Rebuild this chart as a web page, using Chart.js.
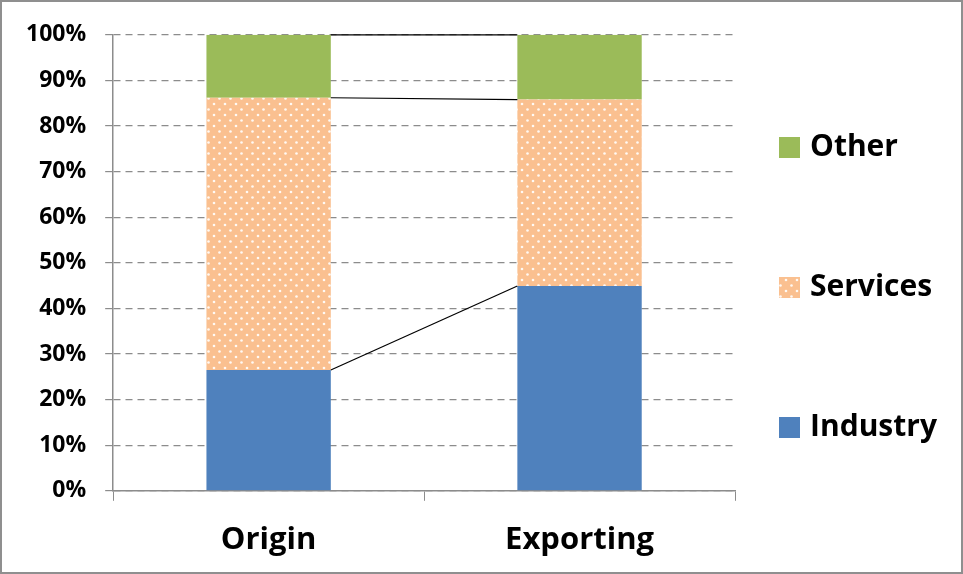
<!DOCTYPE html>
<html>
<head>
<meta charset="utf-8">
<script src="https://cdn.jsdelivr.net/npm/chart.js@4/dist/chart.umd.min.js"></script>
<style>
  body { margin: 0; background: #fff; }
  #wrap { width: 963px; height: 574px; box-sizing: border-box; border: 2px solid #8f8f8f; }
</style>
</head>
<body>
<div id="wrap"><canvas id="shareChart"></canvas></div>
<script>
// data (percent of total)
const categories = ["Origin", "Exporting"];
const industry = [26.5, 44.9];
const services = [59.7, 40.9];
const other = [13.8, 14.2];
const yTicks = [0, 10, 20, 30, 40, 50, 60, 70, 80, 90, 100];

const FONT = "'Open Sans', sans-serif";
const GRAY = "#8c8c8c";

// dotted orange fill, like the excel pattern
function dotPattern() {
  const c = document.createElement("canvas");
  c.width = 11; c.height = 11;
  const g = c.getContext("2d");
  g.fillStyle = "#fac090";
  g.fillRect(0, 0, 11, 11);
  g.fillStyle = "rgba(255,255,255,0.9)";
  [[3, 3], [8.5, 8.5]].forEach(function (p) {
    g.beginPath();
    g.arc(p[0], p[1], 1.3, 0, Math.PI * 2);
    g.fill();
  });
  return g.createPattern(c, "repeat");
}

// -------------------------------
// series lines between the bars
// -------------------------------
const seriesLines = {
  id: "seriesLines",
  afterDatasetsDraw(chart) {
    const ctx = chart.ctx;
    ctx.save();
    ctx.strokeStyle = "#000";
    ctx.lineWidth = 1.2;
    chart.data.datasets.forEach(function (ds, i) {
      const bars = chart.getDatasetMeta(i).data;
      const a = bars[0], b = bars[1];
      ctx.beginPath();
      ctx.moveTo(a.x + a.width / 2, a.y);
      ctx.lineTo(b.x - b.width / 2, b.y);
      ctx.stroke();
    });
    ctx.restore();
  }
};

// -------------------------------
// legend on the right, spread out
// -------------------------------
const sideLegend = {
  id: "sideLegend",
  afterDraw(chart) {
    const ctx = chart.ctx;
    const x = chart.chartArea.right + 44;
    const mid = chart.height / 2;
    const list = chart.data.datasets.slice().reverse();
    ctx.save();
    ctx.font = "bold 30px " + FONT;
    ctx.textBaseline = "middle";
    list.forEach(function (ds, i) {
      const y = mid + (i - 1) * 140;
      ctx.fillStyle = ds.backgroundColor;
      ctx.fillRect(x, y - 10, 21, 21);
      ctx.fillStyle = "#000";
      ctx.fillText(ds.label, x + 31, y);
    });
    ctx.restore();
  }
};

new Chart(document.getElementById("shareChart"), {
  type: "bar",
  data: {
    labels: categories,
    datasets: [
      { label: "Industry", data: industry, backgroundColor: "#4f81bd" },
      { label: "Services", data: services, backgroundColor: dotPattern() },
      { label: "Other", data: other, backgroundColor: "#9bbb59" }
    ]
  },
  options: {
    responsive: true,
    maintainAspectRatio: false,
    animation: false,
    layout: { padding: { top: 22, left: 5, right: 226, bottom: -8 } },
    datasets: { bar: { categoryPercentage: 1, barPercentage: 0.4 } },
    plugins: {
      legend: { display: false },
      tooltip: { enabled: false }
    },
    scales: {
      x: {
        stacked: true,
        grid: { offset: true, drawOnChartArea: false, tickLength: 10, color: GRAY },
        border: { color: GRAY, width: 1.5 },
        ticks: { color: "#000", padding: 21, font: { family: FONT, size: 31, weight: "bold" } }
      },
      y: {
        stacked: true,
        min: 0,
        max: 100,
        afterBuildTicks(axis) { axis.ticks = yTicks.map(function (v) { return { value: v }; }); },
        grid: {
          color: GRAY,
          lineWidth: 1.2,
          tickLength: 8,
          tickBorderDash: [],
          drawTicks: true
        },
        border: { color: GRAY, width: 1.5, dash: [7, 5] },
        ticks: {
          color: "#000",
          padding: 19,
          font: { family: FONT, size: 23, weight: "bold" },
          callback: function (v) { return v + "%"; }
        }
      }
    }
  },
  plugins: [seriesLines, sideLegend]
});
</script>
</body>
</html>
